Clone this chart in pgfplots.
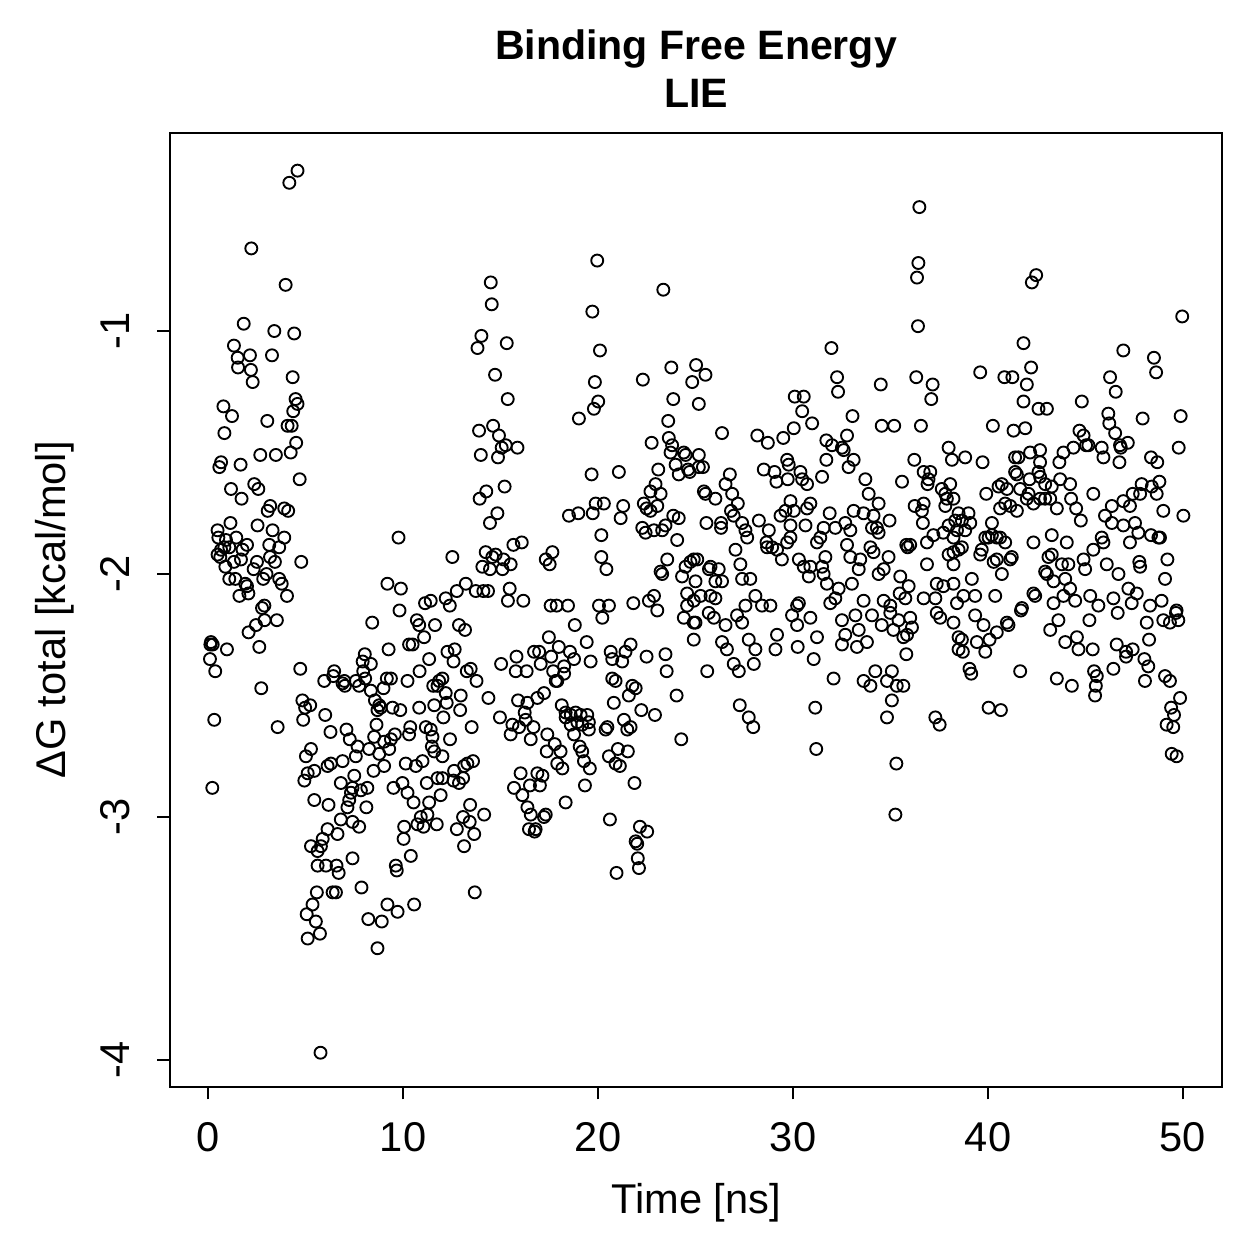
\documentclass[border=0pt]{standalone}
\usepackage{fontspec}
\setmainfont{Liberation Sans}
\usepackage{pgfplots}
\pgfplotsset{compat=1.18}
\usepackage{pgfplotstable}
\pgfplotstableread{
x y
4.59 -0.34
4.17 -0.39
2.22 -0.66
3.98 -0.81
1.83 -0.97
3.40 -1.00
4.42 -1.01
1.33 -1.06
1.52 -1.11
2.15 -1.10
3.28 -1.10
1.54 -1.15
2.20 -1.16
2.29 -1.21
4.34 -1.19
4.49 -1.28
4.59 -1.30
4.37 -1.33
0.79 -1.31
1.23 -1.35
3.04 -1.37
4.08 -1.39
4.29 -1.39
0.84 -1.42
4.52 -1.46
4.24 -1.50
2.68 -1.51
3.48 -1.51
0.67 -1.54
0.58 -1.56
1.67 -1.55
4.70 -1.61
2.37 -1.63
2.58 -1.65
1.18 -1.65
1.72 -1.69
3.19 -1.72
3.06 -1.74
3.91 -1.73
4.11 -1.74
9.77 -1.85
0.49 -1.82
1.15 -1.79
2.54 -1.80
3.31 -1.82
3.91 -1.85
0.53 -1.85
1.45 -1.85
0.92 -1.86
0.84 -1.89
2.00 -1.88
3.14 -1.88
3.65 -1.89
0.67 -1.90
1.09 -1.89
0.49 -1.92
0.63 -1.93
1.77 -1.90
3.18 -1.93
3.43 -1.95
4.78 -1.95
0.89 -1.97
1.33 -1.95
1.69 -1.94
2.51 -1.95
2.34 -1.98
3.00 -2.00
1.09 -2.02
1.40 -2.02
1.91 -2.04
2.00 -2.05
2.83 -2.02
3.65 -2.02
3.78 -2.04
4.05 -2.09
1.61 -2.09
2.07 -2.08
2.89 -2.13
2.77 -2.14
9.20 -2.04
9.89 -2.06
11.13 -2.12
9.82 -2.15
3.53 -2.19
2.90 -2.19
2.46 -2.21
2.08 -2.24
2.63 -2.30
0.15 -2.28
0.24 -2.29
0.12 -2.29
0.97 -2.31
0.10 -2.35
0.37 -2.40
2.73 -2.47
0.32 -2.60
3.57 -2.63
0.22 -2.88
5.77 -3.97
4.73 -2.39
8.42 -2.20
10.71 -2.19
10.83 -2.21
11.08 -2.26
11.64 -2.21
10.31 -2.29
10.49 -2.29
9.26 -2.31
11.34 -2.35
10.85 -2.40
10.23 -2.44
8.04 -2.33
7.93 -2.36
8.35 -2.37
7.96 -2.40
8.06 -2.43
6.47 -2.40
6.42 -2.42
5.96 -2.44
6.99 -2.44
6.90 -2.45
7.02 -2.46
7.58 -2.44
7.75 -2.46
9.17 -2.43
9.38 -2.43
9.00 -2.47
8.35 -2.48
8.56 -2.52
8.78 -2.54
8.86 -2.55
8.69 -2.56
9.46 -2.55
9.86 -2.56
10.83 -2.55
11.55 -2.46
11.77 -2.46
11.60 -2.54
4.84 -2.52
4.98 -2.55
5.24 -2.54
4.88 -2.60
6.01 -2.58
6.28 -2.65
7.10 -2.64
7.27 -2.68
7.67 -2.71
7.58 -2.75
8.26 -2.72
8.52 -2.67
8.78 -2.74
9.03 -2.69
9.29 -2.72
9.38 -2.68
9.58 -2.66
8.64 -2.62
10.37 -2.63
10.31 -2.66
11.17 -2.63
11.51 -2.67
11.48 -2.71
11.60 -2.73
5.28 -2.72
5.02 -2.75
6.30 -2.78
6.13 -2.79
6.90 -2.77
8.49 -2.81
9.03 -2.79
10.14 -2.78
10.66 -2.79
11.00 -2.77
11.22 -2.86
11.77 -2.84
5.45 -2.81
5.11 -2.82
4.94 -2.85
6.81 -2.86
7.50 -2.83
7.41 -2.88
7.33 -2.90
8.17 -2.88
7.84 -2.89
9.51 -2.88
9.97 -2.86
10.23 -2.90
10.54 -2.94
11.34 -2.94
11.25 -2.99
10.91 -3.00
5.45 -2.93
6.18 -2.95
7.24 -2.93
7.15 -2.96
7.41 -3.02
7.75 -3.04
6.81 -3.01
8.12 -2.96
10.06 -3.04
10.03 -3.09
10.74 -3.03
11.05 -3.04
11.73 -3.03
10.40 -3.16
9.63 -3.20
9.68 -3.22
6.13 -3.05
6.64 -3.07
5.88 -3.09
5.79 -3.12
5.28 -3.12
5.62 -3.14
5.62 -3.20
6.05 -3.20
6.59 -3.20
6.70 -3.23
7.41 -3.17
7.87 -3.29
6.39 -3.31
6.56 -3.31
5.58 -3.31
5.36 -3.36
5.06 -3.40
5.53 -3.43
5.74 -3.48
5.11 -3.50
9.20 -3.36
9.72 -3.39
10.57 -3.36
8.22 -3.42
8.91 -3.43
8.69 -3.54
19.96 -0.71
14.50 -0.80
23.35 -0.83
14.55 -0.89
19.71 -0.92
14.02 -1.02
13.82 -1.07
15.32 -1.05
20.10 -1.08
14.72 -1.18
23.76 -1.15
22.30 -1.20
19.84 -1.21
25.03 -1.14
24.83 -1.21
15.37 -1.28
23.86 -1.28
20.01 -1.29
19.79 -1.32
19.02 -1.36
25.17 -1.30
23.60 -1.37
14.62 -1.39
13.90 -1.41
14.92 -1.43
15.27 -1.47
15.06 -1.48
15.87 -1.48
13.99 -1.51
14.87 -1.52
22.75 -1.46
23.63 -1.44
23.80 -1.47
23.72 -1.50
24.40 -1.50
24.49 -1.51
23.98 -1.55
24.14 -1.59
24.62 -1.57
24.70 -1.58
25.17 -1.51
25.17 -1.56
19.67 -1.59
21.07 -1.58
23.09 -1.57
14.27 -1.66
13.93 -1.69
15.21 -1.64
14.84 -1.75
14.46 -1.79
22.95 -1.63
22.69 -1.66
23.21 -1.67
22.35 -1.71
22.49 -1.73
22.69 -1.74
23.04 -1.72
19.88 -1.71
20.30 -1.71
19.73 -1.75
21.29 -1.72
21.16 -1.77
18.51 -1.76
18.99 -1.75
20.17 -1.84
23.86 -1.76
24.14 -1.77
22.27 -1.81
22.44 -1.83
22.87 -1.82
23.29 -1.82
23.46 -1.80
24.06 -1.86
20.17 -1.93
20.43 -1.98
12.53 -1.93
17.32 -1.94
17.66 -1.91
17.52 -1.96
15.66 -1.88
16.09 -1.87
14.24 -1.91
14.75 -1.92
14.58 -1.93
15.15 -1.94
15.52 -1.96
14.07 -1.97
14.46 -1.98
15.10 -1.98
23.55 -1.94
23.21 -1.99
23.29 -2.00
24.31 -2.01
24.49 -1.97
24.74 -1.95
24.91 -1.94
25.00 -2.03
13.22 -2.04
12.76 -2.07
12.19 -2.10
12.40 -2.13
13.73 -2.07
14.12 -2.07
14.36 -2.07
15.47 -2.06
15.38 -2.11
16.17 -2.11
17.57 -2.13
17.88 -2.13
18.46 -2.13
20.05 -2.13
20.56 -2.13
21.81 -2.12
22.61 -2.11
22.87 -2.09
24.57 -2.08
24.57 -2.13
24.91 -2.11
11.42 -2.11
24.40 -2.18
24.91 -2.20
23.04 -2.15
20.22 -2.18
12.87 -2.21
13.18 -2.23
18.81 -2.21
24.91 -2.27
17.48 -2.26
17.99 -2.30
18.56 -2.32
18.77 -2.35
19.42 -2.28
19.62 -2.36
12.28 -2.32
12.65 -2.31
12.59 -2.36
13.27 -2.40
13.47 -2.39
13.77 -2.44
15.03 -2.37
15.82 -2.34
15.78 -2.40
16.34 -2.40
16.72 -2.32
16.98 -2.32
17.06 -2.37
17.60 -2.34
17.70 -2.40
17.83 -2.44
17.91 -2.44
18.26 -2.38
18.26 -2.41
20.65 -2.32
20.73 -2.35
21.24 -2.36
21.41 -2.32
21.67 -2.29
22.49 -2.34
23.46 -2.33
23.52 -2.40
20.73 -2.43
20.90 -2.44
21.76 -2.46
21.93 -2.47
21.58 -2.50
20.81 -2.53
24.03 -2.50
24.27 -2.68
22.22 -2.56
22.92 -2.58
21.33 -2.60
21.50 -2.64
21.67 -2.63
20.39 -2.64
20.48 -2.63
12.96 -2.50
12.19 -2.49
12.02 -2.43
11.85 -2.44
14.38 -2.51
12.24 -2.53
12.93 -2.56
12.07 -2.59
13.52 -2.63
14.97 -2.59
15.90 -2.52
16.38 -2.53
16.89 -2.51
17.23 -2.49
16.24 -2.57
16.29 -2.60
15.61 -2.62
15.52 -2.66
15.95 -2.63
16.69 -2.63
16.55 -2.68
17.40 -2.66
17.78 -2.70
17.37 -2.73
18.08 -2.73
17.91 -2.78
18.17 -2.80
18.14 -2.54
18.34 -2.57
18.60 -2.58
18.85 -2.57
19.11 -2.58
19.45 -2.58
19.53 -2.61
18.34 -2.59
18.60 -2.62
18.94 -2.61
19.19 -2.62
19.53 -2.64
18.77 -2.66
19.06 -2.71
19.19 -2.73
19.28 -2.77
19.58 -2.80
20.56 -2.75
21.02 -2.72
21.53 -2.73
20.90 -2.78
21.12 -2.79
19.33 -2.87
18.34 -2.94
21.87 -2.86
20.61 -3.01
22.15 -3.04
22.52 -3.06
21.93 -3.10
22.01 -3.11
22.04 -3.17
22.10 -3.21
20.95 -3.23
16.03 -2.82
15.69 -2.88
16.12 -2.91
16.89 -2.82
17.15 -2.83
16.51 -2.87
17.02 -2.87
16.38 -2.96
16.55 -2.99
17.32 -2.99
17.23 -3.00
16.46 -3.05
16.80 -3.05
16.75 -3.06
11.42 -2.64
12.02 -2.75
12.41 -2.68
12.62 -2.81
13.13 -2.79
13.59 -2.77
13.30 -2.78
12.02 -2.84
12.59 -2.85
12.87 -2.86
13.08 -2.84
11.93 -2.91
13.44 -2.95
14.16 -2.99
13.08 -3.00
13.42 -3.02
12.76 -3.05
13.65 -3.07
13.13 -3.12
13.68 -3.31
36.48 -0.49
36.43 -0.72
36.36 -0.78
36.41 -0.98
31.97 -1.07
25.51 -1.18
32.26 -1.19
32.31 -1.25
34.50 -1.22
36.32 -1.19
37.16 -1.22
37.09 -1.28
30.09 -1.27
30.55 -1.27
30.47 -1.33
30.98 -1.38
30.04 -1.40
33.05 -1.35
34.55 -1.39
35.19 -1.39
36.56 -1.39
26.36 -1.42
28.17 -1.43
28.71 -1.46
29.50 -1.44
31.71 -1.45
32.00 -1.47
32.51 -1.48
32.60 -1.49
32.77 -1.43
33.11 -1.53
32.85 -1.56
31.71 -1.53
37.98 -1.48
38.15 -1.53
36.22 -1.53
36.70 -1.58
37.04 -1.58
36.95 -1.61
36.90 -1.63
35.59 -1.62
33.71 -1.61
33.88 -1.67
34.39 -1.71
34.13 -1.76
34.05 -1.81
34.30 -1.81
34.39 -1.83
33.97 -1.89
34.13 -1.91
34.95 -1.78
25.38 -1.56
26.76 -1.59
26.54 -1.63
25.43 -1.66
25.51 -1.67
26.02 -1.69
26.88 -1.67
27.17 -1.71
28.50 -1.57
29.05 -1.58
29.15 -1.62
29.70 -1.53
29.78 -1.55
29.73 -1.61
30.38 -1.58
30.47 -1.61
30.72 -1.63
31.49 -1.60
26.82 -1.74
26.96 -1.76
27.39 -1.79
27.56 -1.82
27.65 -1.85
25.56 -1.79
26.31 -1.79
26.31 -1.81
28.25 -1.78
28.76 -1.82
28.64 -1.87
29.36 -1.76
29.87 -1.80
29.61 -1.74
29.87 -1.70
30.72 -1.73
30.89 -1.71
30.64 -1.80
30.04 -1.74
31.88 -1.75
32.17 -1.81
32.68 -1.79
32.94 -1.82
31.57 -1.81
31.40 -1.85
31.23 -1.87
31.66 -1.93
31.49 -1.97
33.11 -1.74
33.62 -1.75
32.77 -1.88
32.94 -1.93
33.45 -1.94
33.37 -1.98
34.90 -1.93
34.65 -1.98
34.39 -2.00
36.24 -1.72
36.70 -1.71
36.61 -1.74
36.66 -1.79
36.01 -1.88
35.88 -1.89
36.87 -1.87
36.87 -1.96
37.20 -1.84
37.71 -1.83
37.98 -1.80
38.23 -1.85
37.98 -1.92
38.23 -1.96
37.63 -1.65
37.81 -1.67
37.89 -1.69
37.81 -1.72
38.32 -1.78
38.41 -1.82
25.09 -1.94
25.69 -1.98
25.77 -1.97
26.19 -1.98
26.02 -2.03
26.36 -2.03
25.26 -2.09
25.77 -2.09
26.02 -2.10
27.05 -1.90
27.30 -1.96
27.39 -2.02
27.81 -2.02
28.07 -2.09
27.56 -2.13
28.41 -2.13
28.84 -2.13
28.67 -1.89
28.93 -1.89
29.18 -1.90
29.43 -1.94
29.70 -1.87
29.87 -1.85
30.30 -1.94
30.55 -1.97
30.81 -2.01
30.30 -2.12
30.21 -2.13
30.89 -1.97
31.57 -2.00
31.74 -2.04
31.91 -2.12
32.34 -2.06
32.17 -2.10
33.02 -2.04
33.62 -2.11
34.65 -2.11
34.99 -2.13
35.50 -2.01
35.93 -2.05
35.47 -2.08
35.76 -2.10
36.70 -2.10
37.37 -2.04
37.71 -2.05
38.23 -2.04
37.30 -2.10
38.41 -2.12
35.81 -1.88
25.00 -2.20
25.68 -2.16
25.94 -2.18
26.54 -2.21
26.36 -2.28
26.61 -2.31
27.13 -2.17
27.39 -2.20
27.73 -2.27
28.07 -2.31
27.99 -2.37
26.96 -2.37
27.22 -2.40
25.60 -2.40
29.18 -2.25
29.10 -2.31
29.95 -2.17
30.21 -2.21
30.89 -2.18
31.23 -2.26
30.24 -2.30
31.06 -2.35
32.08 -2.43
32.51 -2.19
32.68 -2.25
32.51 -2.29
33.20 -2.17
33.37 -2.23
33.28 -2.30
33.79 -2.28
34.05 -2.17
34.55 -2.21
34.99 -2.16
35.41 -2.19
35.15 -2.23
35.66 -2.26
36.01 -2.18
36.10 -2.22
35.85 -2.25
35.81 -2.33
34.22 -2.40
35.07 -2.40
34.82 -2.44
33.62 -2.44
33.97 -2.46
35.32 -2.46
35.66 -2.46
35.07 -2.52
34.82 -2.59
37.37 -2.16
37.55 -2.18
38.23 -2.20
38.49 -2.26
38.49 -2.31
27.27 -2.54
27.73 -2.59
27.96 -2.63
31.14 -2.55
31.19 -2.72
37.30 -2.59
37.52 -2.62
35.30 -2.78
35.25 -2.99
42.47 -0.77
42.25 -0.80
49.96 -0.94
41.82 -1.05
46.94 -1.08
48.51 -1.11
48.62 -1.17
39.60 -1.17
40.84 -1.19
41.25 -1.19
42.21 -1.15
41.99 -1.22
46.26 -1.19
46.55 -1.25
41.82 -1.29
42.59 -1.32
43.02 -1.32
44.81 -1.29
47.93 -1.36
49.88 -1.35
40.25 -1.39
41.31 -1.41
41.91 -1.40
46.17 -1.34
46.22 -1.38
46.52 -1.42
44.69 -1.41
44.90 -1.43
45.03 -1.47
45.15 -1.47
45.83 -1.48
45.92 -1.52
46.77 -1.47
46.81 -1.48
47.17 -1.46
46.74 -1.54
49.78 -1.48
48.36 -1.52
48.68 -1.54
38.83 -1.52
39.72 -1.54
41.39 -1.52
41.56 -1.52
42.16 -1.50
42.67 -1.49
42.67 -1.54
43.66 -1.54
43.87 -1.50
44.38 -1.48
41.39 -1.58
41.48 -1.59
42.13 -1.61
42.59 -1.58
42.67 -1.60
42.93 -1.63
43.70 -1.61
44.21 -1.63
43.27 -1.64
40.71 -1.63
40.54 -1.64
40.97 -1.65
39.91 -1.67
41.65 -1.65
42.08 -1.67
41.99 -1.69
42.33 -1.71
42.67 -1.69
42.93 -1.69
43.19 -1.69
43.53 -1.73
44.26 -1.69
44.52 -1.73
44.76 -1.78
45.40 -1.67
46.35 -1.72
46.94 -1.70
47.28 -1.72
47.42 -1.67
47.80 -1.67
47.88 -1.63
48.40 -1.64
48.65 -1.67
48.79 -1.62
48.99 -1.74
50.02 -1.76
46.00 -1.76
46.35 -1.79
46.94 -1.80
47.54 -1.79
47.71 -1.83
47.28 -1.87
48.36 -1.84
48.74 -1.85
48.82 -1.85
49.20 -1.94
49.08 -2.02
47.76 -1.95
47.80 -1.97
38.23 -1.69
38.06 -1.63
38.49 -1.75
38.66 -1.78
39.00 -1.75
39.09 -1.79
38.83 -1.82
38.66 -1.89
38.49 -1.90
38.23 -1.91
40.20 -1.79
40.62 -1.73
40.88 -1.71
41.14 -1.72
41.48 -1.74
39.86 -1.85
40.03 -1.85
40.20 -1.84
40.45 -1.85
40.62 -1.85
40.88 -1.87
39.68 -1.90
39.60 -1.92
40.29 -1.95
40.45 -1.94
41.22 -1.93
41.14 -1.94
40.71 -2.00
42.33 -1.87
43.27 -1.84
44.04 -1.87
43.10 -1.93
43.27 -1.92
42.93 -1.99
43.02 -2.00
43.79 -1.96
44.12 -1.96
43.96 -2.02
43.36 -2.03
45.40 -1.90
45.83 -1.85
45.92 -1.87
44.90 -1.94
44.98 -1.98
46.09 -1.96
46.69 -2.00
46.43 -2.10
42.33 -2.08
42.42 -2.09
43.87 -2.09
44.21 -2.06
44.47 -2.11
43.36 -2.12
45.24 -2.09
45.66 -2.13
47.20 -2.06
47.63 -2.08
47.37 -2.12
48.31 -2.13
48.90 -2.11
49.67 -2.15
39.17 -2.02
39.34 -2.09
38.74 -2.09
40.37 -2.09
41.74 -2.14
38.66 -2.27
38.71 -2.32
39.43 -2.28
39.86 -2.32
40.08 -2.27
40.45 -2.24
39.77 -2.21
39.34 -2.17
40.97 -2.20
41.05 -2.21
41.69 -2.15
39.05 -2.39
39.14 -2.41
41.65 -2.40
40.03 -2.55
40.66 -2.56
43.19 -2.23
43.61 -2.19
43.96 -2.28
44.56 -2.26
44.64 -2.31
45.37 -2.31
45.20 -2.19
45.44 -2.40
45.58 -2.42
45.53 -2.46
45.49 -2.50
43.53 -2.43
44.30 -2.46
46.43 -2.39
46.60 -2.29
47.08 -2.32
47.42 -2.31
47.08 -2.34
48.02 -2.35
48.22 -2.38
48.05 -2.44
48.26 -2.27
48.14 -2.20
48.99 -2.19
49.33 -2.20
49.76 -2.19
49.64 -2.16
49.08 -2.42
49.33 -2.44
49.85 -2.51
49.39 -2.55
49.54 -2.58
49.16 -2.62
49.50 -2.63
49.42 -2.74
49.67 -2.75
46.65 -2.16
}\lie
\newcommand{\lab}{\fontsize{16.7}{20}\selectfont}
\begin{document}
\begin{tikzpicture}
\useasboundingbox (0,0) rectangle (503.6bp,503.6bp);
\begin{axis}[
  at={(68bp,68.8bp)}, anchor=south west,
  scale only axis, width=420.8bp, height=381.6bp,
  xmin=-1.95, xmax=52, ymin=-4.111, ymax=-0.185,
  axis line style={line width=1bp},
  xtick={0,10,20,30,40,50}, ytick={-4,-3,-2,-1},
  xticklabels={}, yticklabels={},
  tick pos=left, tick align=outside,
  major tick length=5bp,
  tick style={line width=1bp, black},
  clip=false,
]
\addplot[only marks, mark=o, mark size=2.4bp, mark options={line width=0.75bp, black}] table[x=x, y=y] {\lie};
\pgfplotsinvokeforeach{0,10,20,30,40,50}{
  \node[font=\lab, anchor=base, inner sep=0pt] at ([yshift=-26bp]axis cs:#1,-4.111) {#1};
}
\pgfplotsinvokeforeach{-4,-3,-2,-1}{
  \node[font=\lab, anchor=base, rotate=90, inner sep=0pt] at ([xshift=-16bp]axis cs:-1.95,#1) {#1};
}
\end{axis}
\node[font=\fontsize{16.5}{20}\selectfont\bfseries, anchor=base, inner sep=0pt] at (278.4bp,479.6bp) {Binding Free Energy};
\node[font=\fontsize{16.5}{20}\selectfont\bfseries, anchor=base, inner sep=0pt] at (278.4bp,460.5bp) {LIE};
\node[font=\lab, anchor=base, inner sep=0pt] at (278.4bp,18.4bp) {Time [ns]};
\node[font=\lab, anchor=base, rotate=90, inner sep=0pt] at (26bp,259.6bp) {ΔG total [kcal/mol]};
\end{tikzpicture}
\end{document}
